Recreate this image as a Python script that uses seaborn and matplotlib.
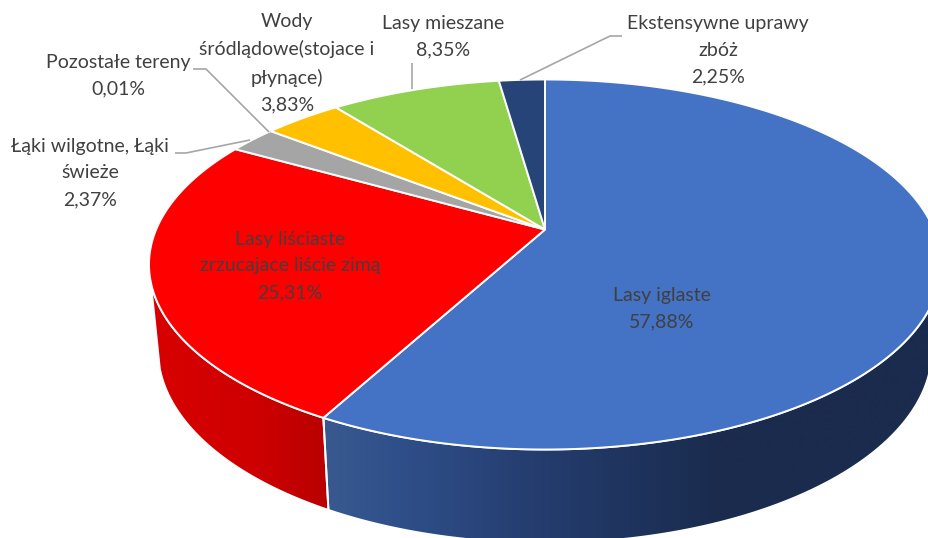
"""
Land cover share as a pseudo-3D pie (Excel look), seaborn theme + matplotlib patches.
"""

import numpy as np
import matplotlib
matplotlib.use("Agg")
import matplotlib.pyplot as plt
from matplotlib.patches import Polygon
from matplotlib.colors import to_rgb
import seaborn as sns

# clockwise from 12 o'clock
labels = ["Lasy iglaste", "Lasy liściaste\nzrzucajace liście zimą", "Łąki wilgotne, Łąki\nświeże",
          "Pozostałe tereny", "Wody\nśródlądowe(stojace i\npłynące)", "Lasy mieszane",
          "Ekstensywne uprawy\nzbóż"]
shares = [57.88, 25.31, 2.37, 0.01, 3.83, 8.35, 2.25]
colors = ["#4472c4", "#ff0000", "#a5a5a5", "#a5a5a5", "#ffc000", "#92d050", "#264478"]

label_pos = [(662, 309), (290, 266), (90, 173), (118, 76), (287, 63), (443, 37), (718, 50)]
leaders = [None, None,
           [(175, 153), (186, 153), (250, 140)],
           [(193, 69), (206, 69), (269, 132)],
           None,
           [(412, 63), (412, 89)],
           [(622, 36), (610, 36), (520, 80)]]

# horizontal shading of the side wall (pixel x, colour)
wall_stops = {0: ([330, 400, 520, 640, 720], ["#38588f", "#2f4f8a", "#263f72", "#1e335c", "#1a2b4d"]),
              1: ([150, 250, 330], ["#d80000", "#cf0000", "#b80000"])}

# ellipse of the top face / bottom edge in picture pixels
CX, TOP_CY, TOP_RX, TOP_RY = 545, 264.5, 396, 185
BOT_CY, BOT_RX, BOT_RY = 350, 387, 193
TILT = 0.189  # perspective: pie centre sits above the ellipse centre


def project(theta):
    """Circle angle (clockwise from up) to unit coords of the drawn ellipse."""
    x, y = np.sin(theta), np.cos(theta)
    den = 1 + TILT * y
    return x * np.sqrt(1 - TILT ** 2) / den, (y + TILT) / den


def top_xy(u, v):
    return np.column_stack([CX + TOP_RX * u, TOP_CY - TOP_RY * v])


def bottom_xy(u, v):
    return np.column_stack([CX + BOT_RX * u, BOT_CY - BOT_RY * v])


sns.set_theme(style="white")
plt.rcParams["font.family"] = ["Lato", "DejaVu Sans"]

fig, ax = plt.subplots(figsize=(9.29, 5.38), dpi=100)
ax.set_position([0, 0, 1, 1])
ax.axis("off")
palette = sns.color_palette(colors)

edges = np.cumsum([0] + shares) / sum(shares) * 2 * np.pi
apex = top_xy(np.array([0.0]), np.array([TILT]))

# side wall
for i, (xs, cols) in wall_stops.items():
    th = np.linspace(edges[i], edges[i + 1], 300)
    u, v = project(th)
    keep = v < -0.09
    poly = np.vstack([top_xy(u[keep], v[keep]), bottom_xy(u[keep], v[keep])[::-1]])
    grid = np.arange(0, 930)
    rgb = np.array([to_rgb(c) for c in cols])
    shade = np.stack([np.interp(grid, xs, rgb[:, k]) for k in range(3)], axis=-1)[None, :, :]
    im = ax.imshow(shade, extent=(0, 929, 538, 0), aspect="auto", zorder=1)
    clip = Polygon(poly, closed=True, transform=ax.transData)
    im.set_clip_path(clip)
    ax.add_patch(Polygon(poly, closed=True, fill=False, edgecolor="white", lw=1.4, zorder=2))

# top face
for i, col in enumerate(palette):
    th = np.linspace(edges[i], edges[i + 1], max(int(shares[i] * 8), 3))
    pts = np.vstack([apex, top_xy(*project(th))])
    lw = 0 if shares[i] < 0.1 else 1.4
    ax.fill(pts[:, 0], pts[:, 1], facecolor=col, edgecolor="white", lw=lw, zorder=3)

# leader lines
for line in leaders:
    if line:
        ax.plot(*zip(*line), color="#a6a6a6", lw=1.2, zorder=4, solid_capstyle="butt")

# labels
for name, val, (x, y) in zip(labels, shares, label_pos):
    txt = f"{name}\n{val:.2f}%".replace(".", ",")
    ax.text(x, y, txt, ha="center", va="center", multialignment="center",
            fontsize=14, color="#404040", linespacing=1.68, zorder=5)

ax.set_xlim(0, 929)
ax.set_ylim(538, 0)
fig.savefig("out.png", dpi=100, facecolor="white")
plt.close(fig)
